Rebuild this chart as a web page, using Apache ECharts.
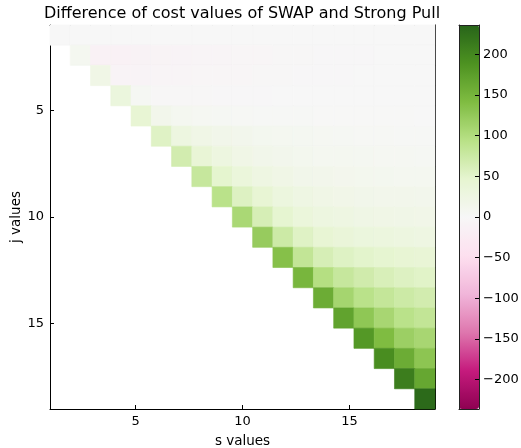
<!DOCTYPE html>
<html>
<head>
<meta charset="utf-8">
<script src="https://cdn.jsdelivr.net/npm/echarts@6/dist/echarts.min.js"></script>
<style>html,body{margin:0;padding:0;background:#fff;}#c{width:521px;height:448px;}</style>
</head>
<body>
<div id="c"></div>
<script>
// Matrix rows (j index 1..19); row k holds values for s columns k..19
const row01 = [0,0,0,0,0,0,0,0,0,0,0,0,0,0,0,0,0,0,0];
const row02 = [8,-12,-12,-11,-9,-8,-7,-6,-5,-4,-3,-3,-2,-2,-2,-1,-1,-1];
const row03 = [20,-8,-8,-7,-6,-5,-4,-4,-3,-3,-2,-2,-2,-1,-1,-1,-1];
const row04 = [32,5,-3,-3,-3,-2,-2,-2,-1,-1,-1,-1,0,0,0,0];
const row05 = [42,14,9,6,5,4,3,2,2,1,1,1,1,1,0];
const row06 = [54,28,20,16,13,10,8,7,6,5,4,4,3,3];
const row07 = [68,40,28,20,16,13,11,9,8,7,6,6,5];
const row08 = [80,48,34,25,20,16,14,12,11,10,9,9];
const row09 = [92,56,42,30,24,20,18,16,15,14,13];
const row10 = [106,64,46,34,28,25,22,20,19,18];
const row11 = [122,74,54,42,36,32,30,28,26];
const row12 = [136,84,64,55,50,46,42,40];
const row13 = [148,97,80,70,62,56,52];
const row14 = [160,110,92,82,74,68];
const row15 = [170,128,108,92,84];
const row16 = [182,142,118,108];
const row17 = [194,160,130];
const row18 = [210,165];
const row19 = [230];
const rows = [row01,row02,row03,row04,row05,row06,row07,row08,row09,row10,
              row11,row12,row13,row14,row15,row16,row17,row18,row19];

const xTicks = [5, 10, 15];
const yTicks = [5, 10, 15];
const cbTicks = [-200, -150, -100, -50, 0, 50, 100, 150, 200];
const extent = [1, 19];   // image extent on both axes
const vRange = [-236, 236];
const PiYG = ['#8e0152','#c51b7d','#de77ae','#f1b6da','#fde0ef','#f7f7f7',
              '#e6f5d0','#b8e186','#7fbc41','#4d9221','#276419'];

const N = rows.length;
const data = [];
rows.forEach((r, k) => r.forEach((v, m) => data.push([k + m, k, v])));

const FONT = 'DejaVu Sans';
const fmtMinus = v => (v < 0 ? '\u2212' + (-v) : String(v));

const chart = echarts.init(document.getElementById('c'), null, {renderer: 'canvas'});
const axisLineStyle = {show: true, onZero: false, lineStyle: {color: '#000', width: 1}};
const frameLine = {show: true, onZero: false, lineStyle: {color: '#222', width: 1}};
const tickStyle = {show: true, inside: true, length: 4, lineStyle: {color: '#000', width: 1}};

chart.setOption({
  animation: false,
  backgroundColor: '#fff',
  title: {
    text: 'Difference of cost values of SWAP and Strong Pull',
    left: 237, top: 1, textAlign: 'center',
    textStyle: {fontFamily: FONT, fontSize: 16, fontWeight: 'normal', color: '#000'}
  },
  grid: [
    {left: 50, top: 25, width: 385, height: 384, outerBoundsMode: 'none', containLabel: false},
    {left: 459, top: 25, width: 20, height: 384, outerBoundsMode: 'none', containLabel: false}
  ],
  xAxis: [
    {gridIndex: 0, type: 'value', min: extent[0], max: extent[1], position: 'bottom',
     axisLine: axisLineStyle, axisTick: Object.assign({customValues: xTicks}, tickStyle),
     axisLabel: {customValues: xTicks, fontFamily: FONT, fontSize: 13, color: '#000', margin: 6},
     splitLine: {show: false},
     name: 's values', nameLocation: 'middle', nameGap: 25, nameMoveOverlap: false,
     nameTextStyle: {fontFamily: FONT, fontSize: 13.5, color: '#000'}},
    {gridIndex: 0, type: 'value', min: extent[0], max: extent[1], position: 'top',
     axisLine: axisLineStyle, axisTick: Object.assign({customValues: xTicks}, tickStyle),
     axisLabel: {show: false}, splitLine: {show: false}},
    {gridIndex: 1, type: 'value', min: 0, max: 1, position: 'bottom', z: 10,
     axisLine: frameLine, axisTick: {show: false},
     axisLabel: {show: false}, splitLine: {show: false}},
    {gridIndex: 1, type: 'value', min: 0, max: 1, position: 'top', z: 10,
     axisLine: frameLine, axisTick: {show: false},
     axisLabel: {show: false}, splitLine: {show: false}}
  ],
  yAxis: [
    {gridIndex: 0, type: 'value', min: extent[0], max: extent[1], inverse: true, position: 'left',
     axisLine: axisLineStyle, axisTick: Object.assign({customValues: yTicks}, tickStyle),
     axisLabel: {customValues: yTicks, fontFamily: FONT, fontSize: 13, color: '#000', margin: 6},
     splitLine: {show: false},
     name: 'j values', nameLocation: 'middle', nameGap: 27, nameRotate: 90, nameMoveOverlap: false,
     nameTextStyle: {fontFamily: FONT, fontSize: 13.5, color: '#000'}},
    {gridIndex: 0, type: 'value', min: extent[0], max: extent[1], inverse: true, position: 'right',
     axisLine: axisLineStyle, axisTick: Object.assign({customValues: yTicks}, tickStyle),
     axisLabel: {show: false}, splitLine: {show: false}},
    {gridIndex: 1, type: 'value', min: vRange[0], max: vRange[1], position: 'right', z: 10,
     axisLine: frameLine,
     axisTick: Object.assign({customValues: cbTicks}, tickStyle),
     axisLabel: {customValues: cbTicks, formatter: fmtMinus, fontFamily: FONT, fontSize: 13, color: '#000', margin: 4},
     splitLine: {show: false}},
    {gridIndex: 1, type: 'value', min: vRange[0], max: vRange[1], position: 'left', z: 10,
     axisLine: frameLine, axisTick: {show: false},
     axisLabel: {show: false}, splitLine: {show: false}}
  ],
  visualMap: {
    type: 'continuous', min: vRange[0], max: vRange[1], seriesIndex: 0, dimension: 2,
    calculable: false, orient: 'vertical', left: 459, top: 25, padding: 0,
    itemWidth: 20, itemHeight: 384, text: null, showLabel: false,
    inRange: {color: PiYG}
  },
  series: [{
    type: 'custom',
    xAxisIndex: 0, yAxisIndex: 0,
    data: data,
    encode: {x: 0, y: 1},
    renderItem: function (params, api) {
      const i = api.value(0), k = api.value(1);
      const step = (extent[1] - extent[0]) / N;
      const p0 = api.coord([extent[0] + i * step, extent[0] + k * step]);
      const p1 = api.coord([extent[0] + (i + 1) * step, extent[0] + (k + 1) * step]);
      const c = api.visual('color');
      return {
        type: 'rect',
        shape: {x: Math.min(p0[0], p1[0]), y: Math.min(p0[1], p1[1]),
                width: Math.abs(p1[0] - p0[0]), height: Math.abs(p1[1] - p0[1])},
        style: {fill: c, stroke: c, lineWidth: 0.6}
      };
    }
  }]
});
</script>
</body>
</html>
